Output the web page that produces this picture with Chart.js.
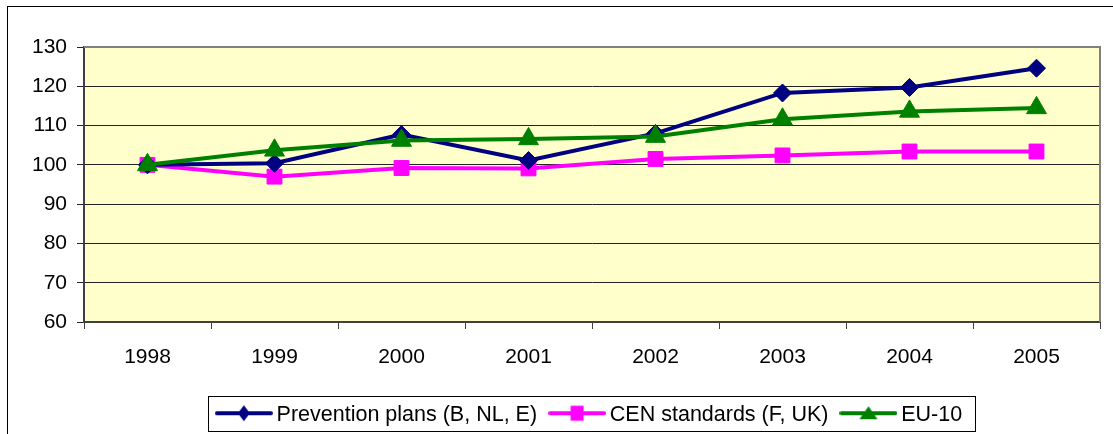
<!DOCTYPE html>
<html>
<head>
<meta charset="utf-8">
<title>Index 1998 = 100</title>
<script src="https://cdn.jsdelivr.net/npm/chart.js@4/dist/chart.umd.min.js"></script>
<style>
    html, body { margin: 0; padding: 0; background: #fff; overflow: hidden; }
    #wrap { position: relative; width: 1113px; height: 436px; }
</style>
</head>
<body>
<div id="wrap"><canvas id="chart"></canvas></div>
<script>
/* data */
const years = ['1998', '1999', '2000', '2001', '2002', '2003', '2004', '2005'];
const prevention = [100, 100.4, 107.7, 101.1, 108.0, 118.3, 119.7, 124.6];
const cenStandards = [100, 97.0, 99.2, 99.1, 101.5, 102.4, 103.4, 103.4];
const eu10 = [100, 103.7, 106.2, 106.6, 107.2, 111.6, 113.6, 114.5];
const seriesNames = ['Prevention plans (B, NL, E)', 'CEN standards (F, UK)', 'EU-10'];
const yMin = 60, yMax = 130, yStep = 10;

const FONT = '"Liberation Sans", Arial, sans-serif';
const NAVY = '#000080', PINK = '#FF00FF', GREEN = '#008000';

/** Excel-style legend key: line with a marker in the middle */
function legendIcon(color, shape) {
    const c = document.createElement('canvas');
    c.width = 58; c.height = 24;
    const g = c.getContext('2d');
    const cy = 10;
    g.strokeStyle = color; g.fillStyle = color;
    g.lineWidth = 4; g.lineCap = 'round';
    g.beginPath(); g.moveTo(2, cy); g.lineTo(56, cy); g.stroke();
    g.beginPath();
    if (shape === 'diamond') {
        g.moveTo(29, cy - 8); g.lineTo(35, cy); g.lineTo(29, cy + 8); g.lineTo(23, cy);
    } else if (shape === 'square') {
        g.rect(22.5, cy - 7.5, 13, 15);
    } else {
        g.moveTo(29, cy - 7); g.lineTo(38, cy + 6); g.lineTo(20, cy + 6);
    }
    g.closePath(); g.fill();
    return c;
}
const legendIcons = [legendIcon(NAVY, 'diamond'), legendIcon(PINK, 'square'), legendIcon(GREEN, 'triangle')];
const KEY_W = 44;

/** background, frames and legend box */
const chartFrame = {
    id: 'chartFrame',
    beforeDraw(chart) {
        const { ctx, chartArea: a } = chart;
        ctx.save();
        ctx.fillStyle = '#fff';
        ctx.fillRect(0, 0, chart.width, chart.height);
        ctx.fillStyle = '#FFFFCC';
        ctx.fillRect(a.left, a.top, a.right - a.left, a.bottom - a.top);
        ctx.strokeStyle = '#000';
        ctx.lineWidth = 1;
        ctx.strokeRect(7.5, 6.5, chart.width + 20, chart.height + 20);
        ctx.restore();
    },
    beforeDatasetsDraw(chart) {
        const { ctx, chartArea: a } = chart;
        ctx.save();
        ctx.strokeStyle = '#808080';
        ctx.lineWidth = 2;
        ctx.beginPath();
        ctx.moveTo(a.left, a.top);
        ctx.lineTo(a.right, a.top);
        ctx.lineTo(a.right, a.bottom);
        ctx.stroke();
        ctx.restore();
    },
    afterDraw(chart) {
        const boxes = chart.legend && chart.legend.legendHitBoxes;
        if (!boxes || !boxes.length) return;
        const first = boxes[0], last = boxes[boxes.length - 1];
        const cy = first.top + first.height / 2;
        const left = first.left + KEY_W / 2 - 29 - 7;
        const right = last.left + last.width + 12.5;
        const { ctx } = chart;
        ctx.save();
        ctx.strokeStyle = '#000';
        ctx.lineWidth = 1;
        ctx.strokeRect(Math.round(left) + 0.5, Math.round(cy - 19) + 0.5,
            Math.round(right - left), 35);
        ctx.restore();
    }
};

new Chart(document.getElementById('chart'), {
    type: 'line',
    data: {
        labels: years,
        datasets: [
            {
                label: seriesNames[0], data: prevention, order: 1,
                borderColor: NAVY, backgroundColor: NAVY, borderWidth: 4,
                pointStyle: 'rectRot', pointRadius: 9, pointBorderWidth: 1
            },
            {
                label: seriesNames[1], data: cenStandards, order: 2,
                borderColor: PINK, backgroundColor: PINK, borderWidth: 4,
                pointStyle: 'rect', pointRadius: 10.5, pointBorderWidth: 1
            },
            {
                label: seriesNames[2], data: eu10, order: 0,
                borderColor: GREEN, backgroundColor: GREEN, borderWidth: 4,
                pointStyle: 'triangle', pointRadius: 11.5, pointBorderWidth: 1
            }
        ]
    },
    options: {
        responsive: true,
        maintainAspectRatio: false,
        animation: false,
        events: [],
        layout: { padding: { top: 47, right: 13, bottom: 0, left: 0 } },
        elements: { line: { tension: 0 } },
        scales: {
            x: {
                offset: true,
                grid: { offset: true, drawOnChartArea: false, tickLength: 7, color: '#404040' },
                border: { color: '#404040', width: 2 },
                ticks: { color: '#000', font: { family: FONT, size: 21 }, padding: 16, maxRotation: 0, autoSkip: false },
                afterFit(s) { s.height = 64.5; }
            },
            y: {
                min: yMin, max: yMax,
                grid: { color: '#222', tickLength: 7 },
                border: { color: '#404040', width: 2 },
                ticks: { stepSize: yStep, color: '#000', font: { family: FONT, size: 21 }, padding: 10 },
                afterFit(s) { s.width = 84; }
            }
        },
        plugins: {
            tooltip: { enabled: false },
            legend: {
                position: 'bottom',
                fullSize: false,
                labels: {
                    usePointStyle: true,
                    pointStyleWidth: KEY_W,
                    padding: 18,
                    color: '#000',
                    font: { family: FONT, size: 21.5 },
                    generateLabels(chart) {
                        const items = Chart.defaults.plugins.legend.labels.generateLabels(chart);
                        items.sort((a, b) => a.datasetIndex - b.datasetIndex);
                        items.forEach(it => { it.pointStyle = legendIcons[it.datasetIndex]; });
                        return items;
                    }
                }
            }
        }
    },
    plugins: [chartFrame]
});
</script>
</body>
</html>
